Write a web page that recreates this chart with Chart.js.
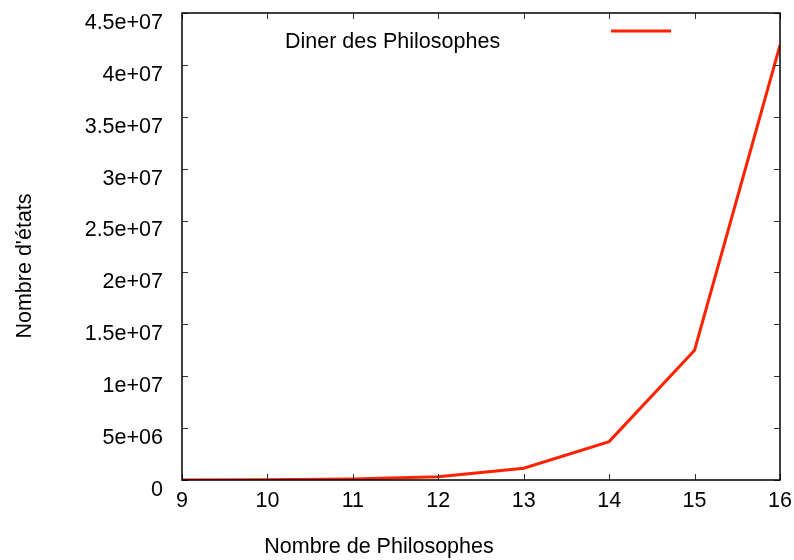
<!DOCTYPE html>
<html>
<head>
<meta charset="utf-8">
<script src="https://cdn.jsdelivr.net/npm/chart.js@4/dist/chart.umd.min.js"></script>
<style>
  html, body { margin: 0; padding: 0; background: #fff; }
  #wrap { width: 794px; height: 560px; }
</style>
</head>
<body>
<div id="wrap"><canvas id="chart" width="794" height="560"></canvas></div>
<script>
// data
const philosophers = [9, 10, 11, 12, 13, 14, 15, 16];
const states = [9.0e3, 3.0e4, 1.0e5, 3.2e5, 1.13e6, 3.7e6, 1.25e7, 4.19e7];
const seriesLabel = 'Diner des Philosophes';
const xTitle = 'Nombre de Philosophes';
const yTitle = "Nombre d'états";
const yTickLabels = {0: '0', 5e6: '5e+06', 1e7: '1e+07', 1.5e7: '1.5e+07', 2e7: '2e+07',
  2.5e7: '2.5e+07', 3e7: '3e+07', 3.5e7: '3.5e+07', 4e7: '4e+07', 4.5e7: '4.5e+07'};

const FONT = '"Liberation Sans", Helvetica, Arial, sans-serif';
const FONT_SIZE = 21.5;
const LINE_COLOR = '#ff2200';

/* gnuplot-like frame: border, inward ticks on all sides, titles and key */
const framePlugin = {
  id: 'frame',
  afterDraw(chart){
    const ctx = chart.ctx;
    const a = chart.chartArea;
    const xs = chart.scales.x, ys = chart.scales.y;
    ctx.save();
    // inward ticks
    ctx.strokeStyle = '#333';
    ctx.lineWidth = 1;
    ctx.beginPath();
    xs.ticks.forEach(t=>{
      const px = Math.round(xs.getPixelForValue(t.value)) + 0.5;
      ctx.moveTo(px, a.bottom); ctx.lineTo(px, a.bottom - 6);
      ctx.moveTo(px, a.top); ctx.lineTo(px, a.top + 6);
    });
    ys.ticks.forEach(t=>{
      const py = Math.round(ys.getPixelForValue(t.value)) + 0.5;
      ctx.moveTo(a.left, py); ctx.lineTo(a.left + 6, py);
      ctx.moveTo(a.right, py); ctx.lineTo(a.right - 6, py);
    });
    ctx.stroke();
    // border
    ctx.strokeStyle = '#000';
    ctx.lineWidth = 1.5;
    ctx.strokeRect(a.left, a.top, a.right - a.left, a.bottom - a.top);
    // axis titles
    ctx.fillStyle = '#000';
    ctx.font = FONT_SIZE + 'px ' + FONT;
    ctx.textAlign = 'center';
    ctx.textBaseline = 'middle';
    ctx.fillText(xTitle, 379, 547);
    ctx.save();
    ctx.translate(25, 266);
    ctx.rotate(-Math.PI / 2);
    ctx.fillText(yTitle, 0, 0);
    ctx.restore();
    // key
    ctx.textAlign = 'left';
    ctx.fillText(chart.data.datasets[0].label, 285, 42);
    ctx.strokeStyle = chart.data.datasets[0].borderColor;
    ctx.lineWidth = 3;
    ctx.beginPath();
    ctx.moveTo(611, 31); ctx.lineTo(671, 31);
    ctx.stroke();
    ctx.restore();
  }
};

new Chart(document.getElementById('chart'), {
  type: 'line',
  data: {
    datasets: [{
      label: seriesLabel,
      data: philosophers.map((x, i)=>({x, y: states[i]})),
      borderColor: LINE_COLOR,
      borderWidth: 3,
      pointRadius: 0,
      tension: 0,
      fill: false
    }]
  },
  options: {
    responsive: false,
    animation: false,
    layout: { padding: { left: 0, right: 14, top: 13, bottom: 0 } },
    plugins: { legend: { display: false }, tooltip: { enabled: false } },
    scales: {
      x: {
        type: 'linear', min: 9, max: 16,
        afterFit(s){ s.height = 80; s.paddingLeft = 0; s.paddingRight = 0; },
        grid: { display: false, drawTicks: false },
        border: { display: false },
        ticks: { stepSize: 1, padding: 8, color: '#000', maxRotation: 0, font: { family: FONT, size: FONT_SIZE } }
      },
      y: {
        type: 'linear', min: 0, max: 4.5e7,
        afterFit(s){ s.width = 182; s.paddingTop = 0; s.paddingBottom = 0; },
        grid: { display: false, drawTicks: false },
        border: { display: false },
        ticks: {
          stepSize: 5e6, padding: 19, labelOffset: 10, color: '#000',
          font: { family: FONT, size: FONT_SIZE },
          callback: v => yTickLabels[v] ?? String(v)
        }
      }
    }
  },
  plugins: [framePlugin]
});
</script>
</body>
</html>
